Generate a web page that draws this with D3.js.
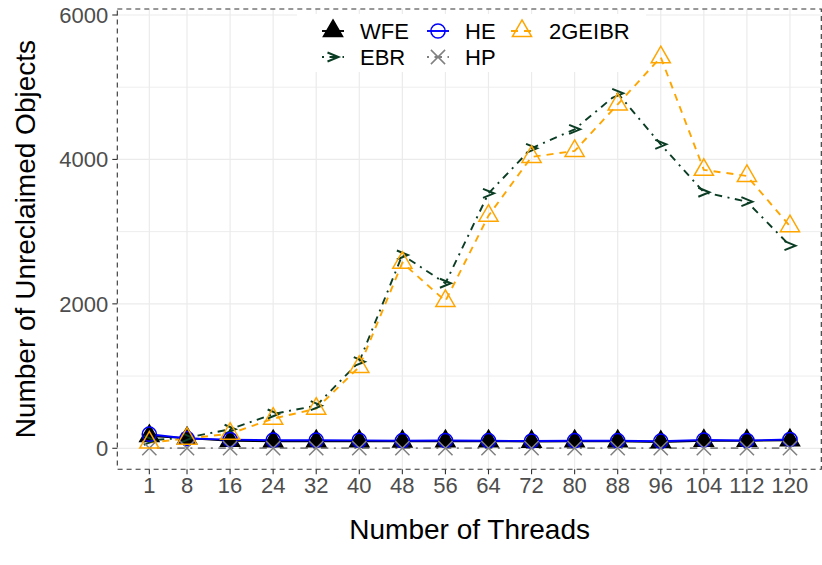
<!DOCTYPE html>
<html>
<head>
<meta charset="utf-8">
<script src="https://cdn.jsdelivr.net/npm/d3@7"></script>
<style>
    body { margin: 0; background: white; }
    text { font-family: "Liberation Sans", Arial, sans-serif; }
    .tick-label { font-size: 22px; fill: #4d4d4d; }
    .axis-title { font-size: 28px; fill: black; }
    .legend-label { font-size: 22px; fill: black; }
</style>
</head>
<body>
<script>

    // values
    var threads = [1, 8, 16, 24, 32, 40, 48, 56, 64, 72, 80, 88, 96, 104, 112, 120];
    var wfe   = [170, 140, 105, 97, 97, 97, 95, 97, 98, 92, 97, 97, 88, 105, 103, 110];
    var he    = [195, 135, 120, 112, 112, 110, 105, 108, 105, 100, 105, 105, 98, 115, 108, 122];
    var ebr   = [110, 147, 263, 475, 590, 1200, 2677, 2285, 3530, 4154, 4417, 4915, 4209, 3545, 3415, 2806];
    var hp    = [2, 2, 2, 2, 2, 2, 2, 2, 2, 2, 2, 2, 2, 2, 2, 2];
    var geibr = [80, 133, 202, 410, 548, 1127, 2570, 2040, 3221, 4035, 4117, 4762, 5415, 3856, 3771, 3075];
    var yTicks = [0, 2000, 4000, 6000];
    var yMinor = [1000, 3000, 5000];

    var width = 822, height = 565;
    var panel = {left: 117.3, right: 822, top: 9, bottom: 469.3};

    var svg = d3.select("body").append("svg")
        .attr("width", width)
        .attr("height", height);

    // ggplot style 5% expansion around the data
    var xPad = (d3.max(threads) - d3.min(threads)) * 0.05;
    var x = d3.scaleLinear()
        .domain([d3.min(threads) - xPad, d3.max(threads) + xPad])
        .range([panel.left, panel.right]);
    var y = d3.scaleLinear()
        .domain([-291, 6083])
        .range([panel.bottom, panel.top]);

    var series = [
        {name: "WFE",    values: wfe,   color: "black",   dash: null,               shape: "tri-fill"},
        {name: "EBR",    values: ebr,   color: "#0b3d24", dash: "2,5.5,7.5,5.5",    shape: "chevron"},
        {name: "HE",     values: he,    color: "#0000ff", dash: null,               shape: "circle"},
        {name: "HP",     values: hp,    color: "#808080", dash: "2,5.5,7.5,5.5",    shape: "cross"},
        {name: "2GEIBR", values: geibr, color: "#ffa500", dash: "7,6",              shape: "tri-open"}
    ];

    // grid
    var grid = svg.append("g");
    grid.selectAll("line.minor").data(yMinor).enter().append("line")
        .attr("x1", panel.left).attr("x2", panel.right)
        .attr("y1", d => y(d)).attr("y2", d => y(d))
        .attr("stroke", "#ebebeb").attr("stroke-width", 0.9);
    grid.selectAll("line.hmajor").data(yTicks).enter().append("line")
        .attr("x1", panel.left).attr("x2", panel.right)
        .attr("y1", d => y(d)).attr("y2", d => y(d))
        .attr("stroke", "#ebebeb").attr("stroke-width", 1.2);
    grid.selectAll("line.vmajor").data(threads).enter().append("line")
        .attr("x1", d => x(d)).attr("x2", d => x(d))
        .attr("y1", panel.top).attr("y2", panel.bottom)
        .attr("stroke", "#ebebeb").attr("stroke-width", 1.2);

    // symbol drawing, r is the R style "radius" of a point
    var r = 7.1;
    function drawShape(g, shape, color) {
        if (shape == "tri-fill" || shape == "tri-open") {
            var tr = 1.555 * r, tx = 1.347 * r, ty = 0.778 * r;
            g.append("path")
                .attr("d", `M0,${-tr}L${tx},${ty}L${-tx},${ty}Z`)
                .attr("fill", shape == "tri-fill" ? color : "none")
                .attr("stroke", color).attr("stroke-width", 1.5);
        } else if (shape == "circle") {
            g.append("circle").attr("r", r)
                .attr("fill", "none").attr("stroke", color).attr("stroke-width", 1.5);
        } else if (shape == "cross") {
            g.append("path")
                .attr("d", `M${-r},${-r}L${r},${r}M${-r},${r}L${r},${-r}`)
                .attr("stroke", color).attr("stroke-width", 1.5);
        } else if (shape == "chevron") {
            g.append("path")
                .attr("d", "M-5.5,-4.5L5.5,0L-5.5,4.5")
                .attr("fill", "none").attr("stroke", color).attr("stroke-width", 2);
        }
    }

    var line = d3.line()
        .x((d, i) => x(threads[i]))
        .y(d => y(d));

    // all lines first, then all points (same as ggplot layers)
    series.forEach(function(s) {
        svg.append("path")
            .attr("d", line(s.values))
            .attr("fill", "none")
            .attr("stroke", s.color)
            .attr("stroke-width", 1.9)
            .attr("stroke-dasharray", s.dash);
    });
    series.forEach(function(s) {
        s.values.forEach(function(v, i) {
            var g = svg.append("g").attr("transform", `translate(${x(threads[i])},${y(v)})`);
            drawShape(g, s.shape, s.color);
        });
    });

    // panel border
    svg.append("rect")
        .attr("x", panel.left).attr("y", panel.top)
        .attr("width", panel.right - panel.left - 0.7).attr("height", panel.bottom - panel.top)
        .attr("fill", "none").attr("stroke", "#333").attr("stroke-width", 1.1)
        .attr("stroke-dasharray", "5,4");

    // y axis
    svg.selectAll("line.ytick").data(yTicks).enter().append("line")
        .attr("x1", panel.left - 5).attr("x2", panel.left)
        .attr("y1", d => y(d)).attr("y2", d => y(d))
        .attr("stroke", "#333").attr("stroke-width", 1.1);
    svg.selectAll("text.ylab").data(yTicks).enter().append("text")
        .attr("class", "tick-label")
        .attr("x", panel.left - 9).attr("y", d => y(d))
        .attr("text-anchor", "end").attr("dy", "0.36em")
        .text(d => d);

    // x axis
    svg.selectAll("line.xtick").data(threads).enter().append("line")
        .attr("x1", d => x(d)).attr("x2", d => x(d))
        .attr("y1", panel.bottom).attr("y2", panel.bottom + 5)
        .attr("stroke", "#333").attr("stroke-width", 1.1);
    svg.selectAll("text.xlab").data(threads).enter().append("text")
        .attr("class", "tick-label")
        .attr("x", d => x(d)).attr("y", 493)
        .attr("text-anchor", "middle")
        .text(d => d);

    svg.append("text").attr("class", "axis-title")
        .attr("x", (panel.left + panel.right) / 2).attr("y", 539)
        .attr("text-anchor", "middle")
        .text("Number of Threads");
    svg.append("text").attr("class", "axis-title")
        .attr("transform", `translate(35,${(panel.top + panel.bottom) / 2}) rotate(-90)`)
        .attr("text-anchor", "middle")
        .text("Number of Unreclaimed Objects");

    // legend, filled column by column in two rows
    var legend = svg.append("g");
    legend.append("rect")
        .attr("x", 297).attr("y", 14).attr("width", 349).attr("height", 58)
        .attr("fill", "white");
    var colX = [333, 438, 522], rowY = [31, 57];
    series.forEach(function(s, i) {
        var cx = colX[Math.floor(i / 2)], cy = rowY[i % 2];
        var g = legend.append("g").attr("transform", `translate(${cx},${cy})`);
        g.append("line")
            .attr("x1", -11).attr("x2", 11)
            .attr("stroke", s.color).attr("stroke-width", 1.9)
            .attr("stroke-dasharray", s.dash);
        drawShape(g, s.shape, s.color);
        legend.append("text").attr("class", "legend-label")
            .attr("x", cx + 27).attr("y", cy).attr("dy", "0.36em")
            .text(s.name);
    });

</script>
</body>
</html>
